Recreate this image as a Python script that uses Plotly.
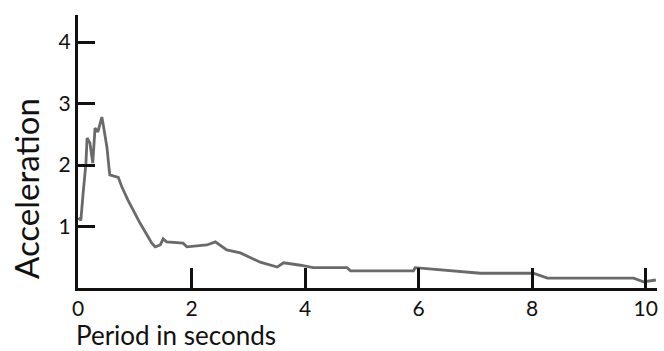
import plotly.graph_objects as go

period = [0.005, 0.05, 0.09, 0.14, 0.16, 0.21, 0.26, 0.30, 0.35, 0.42, 0.44, 0.51, 0.55, 0.56,
          0.71, 0.77, 0.88, 1.09, 1.30, 1.36, 1.45, 1.50, 1.56, 1.85, 1.92, 2.27, 2.42, 2.50,
          2.62, 2.86, 3.21, 3.51, 3.62, 3.92, 4.14, 4.74, 4.80, 5.91, 5.94, 7.09, 8.02, 8.27,
          9.79, 9.96, 10.18]
accel = [1.14, 1.10, 1.54, 2.03, 2.44, 2.36, 2.03, 2.60, 2.54, 2.78, 2.68, 2.29, 1.92, 1.84,
         1.80, 1.65, 1.43, 1.06, 0.73, 0.67, 0.70, 0.80, 0.75, 0.73, 0.67, 0.70, 0.75, 0.70,
         0.62, 0.57, 0.42, 0.34, 0.41, 0.37, 0.33, 0.33, 0.28, 0.28, 0.33, 0.24, 0.24, 0.16,
         0.16, 0.10, 0.13]

x_ticks = [0, 2, 4, 6, 8, 10]
y_ticks = [1, 2, 3, 4]

fig = go.Figure(go.Scatter(x=period, y=accel, mode="lines",
                           line=dict(color="#6a6a6a", width=2.8), showlegend=False))

FONT = "Lato"
TXT = "#111111"
fig.update_layout(
    width=664, height=351,
    margin=dict(l=78, r=7, t=15, b=63),
    plot_bgcolor="white", paper_bgcolor="white",
    font=dict(family=FONT, color=TXT, size=21),
    xaxis=dict(range=[0, 10.2], tickvals=x_ticks, ticks="inside", ticklen=20, tickwidth=3,
               tickcolor="#111", showline=True, linewidth=3, linecolor="#111",
               showgrid=False, zeroline=False, tickfont=dict(size=21, color=TXT)),
    yaxis=dict(range=[0, 4.44], tickvals=y_ticks, ticks="inside", ticklen=17, tickwidth=3,
               tickcolor="#111", showline=True, linewidth=3, linecolor="#111",
               showgrid=False, zeroline=False, tickfont=dict(size=21, color=TXT)),
    annotations=[
        dict(text="Acceleration", xref="paper", yref="paper", x=-(78-26)/579, y=(288-189)/273,
             xanchor="center", yanchor="middle", textangle=-90, showarrow=False,
             font=dict(size=33, family=FONT, color=TXT)),
        dict(text="Period in seconds", xref="paper", yref="paper", x=-(78-74)/579, y=-(335-288)/273,
             xanchor="left", yanchor="middle", showarrow=False,
             font=dict(size=26, family=FONT, color=TXT)),
    ],
)
fig.write_html("out.html")
